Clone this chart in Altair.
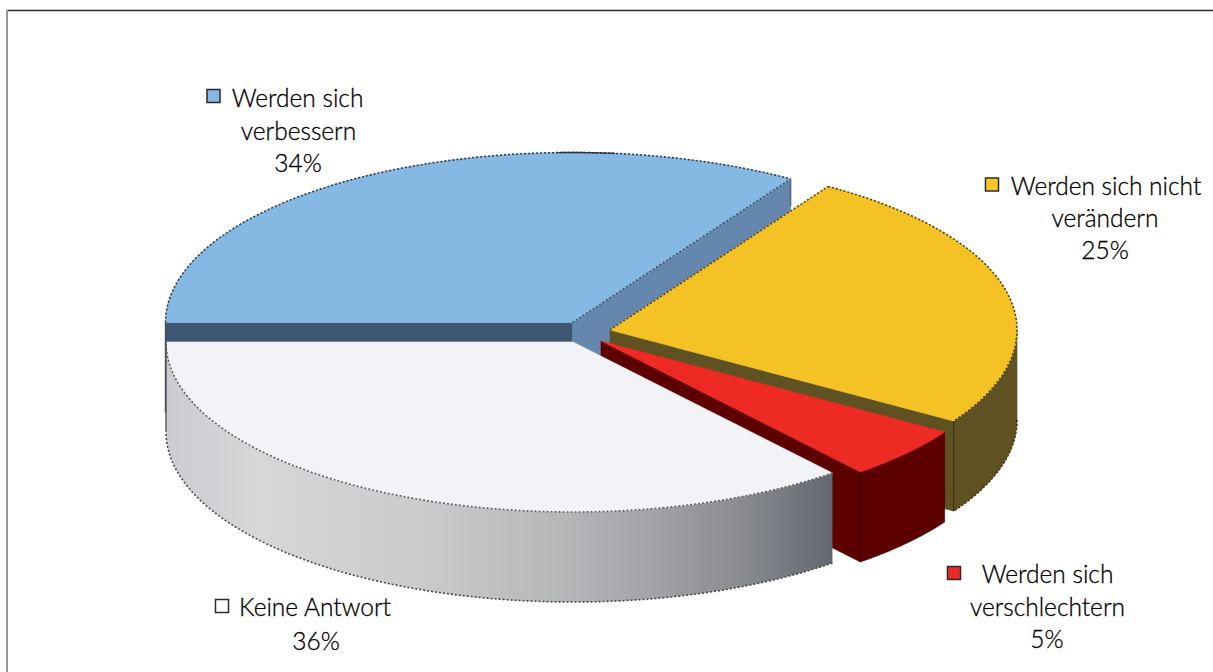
import math
import altair as alt
import pandas as pd

# Survey answers, clockwise from the left edge of the pie
categories = ["Werden sich verbessern", "Werden sich nicht verändern",
              "Werden sich verschlechtern", "Keine Antwort"]
shares = [34, 25, 5, 36]

top_colors = ["#85b8e2", "#f4c224", "#ee2a24", "#f2f3f7"]
swatch_colors = ["#85b8e2", "#f7c42c", "#ee2a24", "#ffffff"]

# Pie geometry in pixels: ellipse radii, wall height and each slice's pulled-out apex
RX, RY, DEPTH = 407, 170, 90
apexes = [(572.5, 322.5), (610, 330), (601, 341), (573, 342)]

# Start and end angle of every slice, derived from its share
angles = []
current = 180.0
for share in shares:
    angles.append((current, current - share * 3.6))
    current -= share * 3.6


def rim(apex, start, end, drop=0, steps=90):
    cx, cy = apex
    return [[cx + RX * math.cos(math.radians(start + (end - start) * i / steps)),
             cy + drop - RY * math.sin(math.radians(start + (end - start) * i / steps))]
            for i in range(steps + 1)]


def on_rim(apex, angle):
    return rim(apex, angle, angle, steps=1)[0]


def polygon(points, fill, edge=None, width=0.6):
    return {"type": "Feature",
            "geometry": {"type": "Polygon", "coordinates": [points + [points[0]]]},
            "properties": {"fill": fill, "edge": edge or fill, "width": width}}


def line(points, edge):
    return {"type": "Feature",
            "geometry": {"type": "LineString", "coordinates": points},
            "properties": {"edge": edge}}


def cut_wall(apex, angle, fill, edge=None):
    p = on_rim(apex, angle)
    a = list(apex)
    return polygon([a, p, [p[0], p[1] + DEPTH], [a[0], a[1] + DEPTH]], fill, edge)


def outer_wall(apex, start, end, fill, edge=None):
    return polygon(rim(apex, start, end) + rim(apex, end, start, DEPTH), fill, edge)


def top_face(apex, start, end, fill):
    return polygon([list(apex)] + rim(apex, start, end), fill)


blue, yellow, red, white = 0, 1, 2, 3

# Slices painted back to front
rear_faces = [
    cut_wall(apexes[blue], angles[blue][0], "#3f5672"),
    cut_wall(apexes[blue], angles[blue][1], "#6587ad"),
    top_face(apexes[blue], *angles[blue], top_colors[blue]),
    cut_wall(apexes[yellow], angles[yellow][1], "#5f5122"),
    outer_wall(apexes[yellow], 0, angles[yellow][1], "#5f5122"),
    top_face(apexes[yellow], *angles[yellow], top_colors[yellow]),
    cut_wall(apexes[red], angles[red][1], "#5c0000"),
    outer_wall(apexes[red], *angles[red], "#5c0000", "#3c0000"),
    top_face(apexes[red], *angles[red], top_colors[red]),
]
white_wall = [outer_wall(apexes[white], *angles[white], "#cccccc")]
white_top = [top_face(apexes[white], *angles[white], top_colors[white])]

blue_end = on_rim(apexes[blue], angles[blue][1])
yellow_start = on_rim(apexes[yellow], angles[yellow][0])
yellow_end = on_rim(apexes[yellow], angles[yellow][1])
red_end = on_rim(apexes[red], angles[red][1])
white_end = on_rim(apexes[white], angles[white][1])
left_edge = on_rim(apexes[blue], 180)

# Dark rims that run along the outer edges, drawn speckled
rims = [
    line(rim(apexes[blue], *angles[blue]), "#333c46"),
    line([list(apexes[blue]), blue_end], "#3d5570"),
    line(rim(apexes[yellow], *angles[yellow]), "#4f4218"),
    line([list(apexes[yellow]), yellow_start], "#5a4a20"),
    line(rim(apexes[yellow], 0, angles[yellow][1], DEPTH), "#3f3618"),
    line(rim(apexes[white], *angles[white]), "#5e5e5e"),
    line(rim(apexes[white], *angles[white], DEPTH), "#4c4844"),
]
# Hard edges where neighbouring faces meet
solid_lines = [
    line([left_edge, [left_edge[0], left_edge[1] + DEPTH]], "#4a4f57"),
    line(rim(apexes[blue], 92, 84, steps=8), "#30343a"),
    line([blue_end, [blue_end[0], blue_end[1] + 27]], "#4f6580"),
    line([yellow_end, [yellow_end[0], yellow_end[1] + DEPTH]], "#3f3618"),
    line([red_end, [red_end[0], red_end[1] + DEPTH]], "#3c0000"),
    line([white_end, [white_end[0], white_end[1] + DEPTH]], "#50555c"),
]

identity = dict(type="identity", scale=1, translate=[0, 0])


def shapes(features):
    return (
        alt.Chart(alt.Data(values=features))
        .mark_geoshape()
        .encode(fill=alt.Fill("properties.fill:N", scale=None),
                stroke=alt.Stroke("properties.edge:N", scale=None),
                strokeWidth=alt.StrokeWidth("properties.width:Q", scale=None))
        .project(**identity)
    )


def strokes(features, dash, width):
    return (
        alt.Chart(alt.Data(values=features))
        .mark_geoshape(filled=False, strokeDash=dash, strokeWidth=width)
        .encode(stroke=alt.Stroke("properties.edge:N", scale=None))
        .project(**identity)
    )


wall_gradient = alt.Gradient(
    gradient="linear", x1=0, x2=1, y1=0, y2=0,
    stops=[alt.GradientStop(color="#cbcccf", offset=0),
           alt.GradientStop(color="#d6d7d9", offset=0.14),
           alt.GradientStop(color="#cacbcd", offset=0.38),
           alt.GradientStop(color="#b6b7b9", offset=0.59),
           alt.GradientStop(color="#a2a3a7", offset=0.73),
           alt.GradientStop(color="#8a8c90", offset=0.86),
           alt.GradientStop(color="#636970", offset=1)],
)
white_side = (
    alt.Chart(alt.Data(values=white_wall))
    .mark_geoshape(fill=wall_gradient, strokeWidth=0)
    .project(**identity)
)

# Page frame: dark along the top, grey down the left
frame = alt.layer(
    alt.Chart(pd.DataFrame({"k": [0]})).mark_rule(color="#2a2a2a", strokeWidth=1.5)
    .encode(x=alt.value(6), x2=alt.value(1213), y=alt.value(10.5)),
    alt.Chart(pd.DataFrame({"k": [0]})).mark_rule(color="#989898", strokeWidth=2)
    .encode(x=alt.value(7), y=alt.value(10), y2=alt.value(672)),
)

# Callouts: one block of lines and one swatch per slice
label_lines = [
    ["Werden sich", "verbessern", f"{shares[0]}%"],
    ["Werden sich nicht", "verändern", f"{shares[1]}%"],
    ["Werden sich", "verschlechtern", f"{shares[2]}%"],
    ["Keine Antwort", f"{shares[3]}%"],
]
label_x = [[297.5, 298.5, 298], [1106, 1105, 1105], [1047.5, 1047.5, 1047], [315, 316]]
label_y = [[107, 140, 172], [195, 227, 259], [583, 616, 648], [616, 650]]
swatch_x = [213.5, 992, 954, 222]
swatch_y = [96, 184.5, 573, 606]

text_rows = pd.DataFrame(
    [{"label": t, "x": x, "y": y}
     for ts, xs, ys in zip(label_lines, label_x, label_y)
     for t, x, y in zip(ts, xs, ys)]
)
texts = (
    alt.Chart(text_rows)
    .mark_text(font="Lato", fontWeight=300, fontSize=24.5, color="#000000",
               stroke="#000000", strokeWidth=0.3,
               align="center", baseline="alphabetic")
    .encode(x=alt.X("x:Q", scale=None, axis=None),
            y=alt.Y("y:Q", scale=None, axis=None),
            text="label:N")
)
swatch_rows = pd.DataFrame({"x": swatch_x, "y": swatch_y, "fill": swatch_colors, "name": categories})
swatches = (
    alt.Chart(swatch_rows)
    .mark_square(size=170, stroke="#2b2b2b", strokeWidth=1.5, opacity=1)
    .encode(x=alt.X("x:Q", scale=None, axis=None),
            y=alt.Y("y:Q", scale=None, axis=None),
            fill=alt.Fill("fill:N", scale=None))
)

chart = (
    alt.layer(
        frame,
        shapes(rear_faces),
        white_side,
        shapes(white_top),
        strokes(rims, [2, 2], 1.6),
        strokes(solid_lines, [1, 0], 1.4),
        swatches,
        texts,
    )
    .properties(width=1213, height=672, padding=0, autosize="none", background="#ffffff")
    .configure_view(stroke=None)
)

chart.save("out.html", embed_options={"renderer": "svg", "actions": False})
